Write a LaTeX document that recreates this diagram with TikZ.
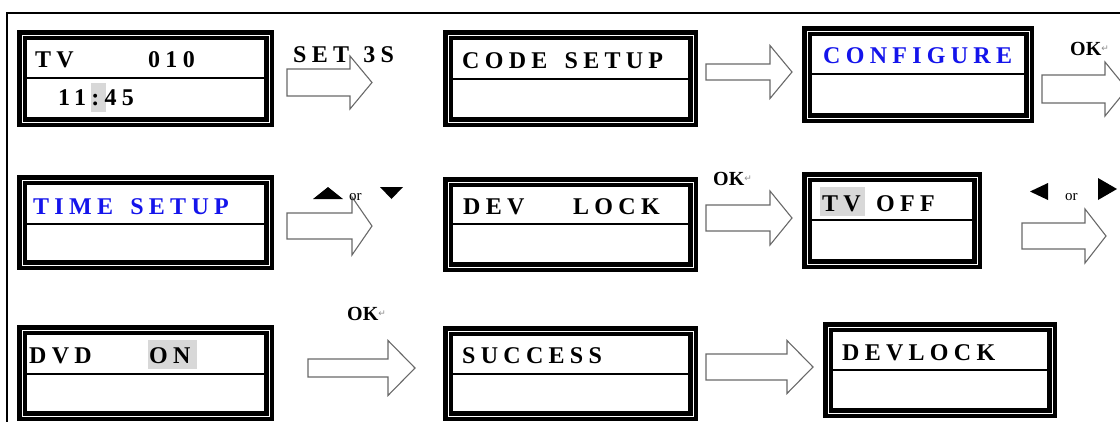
\documentclass[tikz,border=0pt]{standalone}
\usepackage{fontspec}
\setmainfont{Liberation Serif}
\newfontfamily\lcdfont[LetterSpace=22]{Liberation Serif}
\newfontfamily\symfont{DejaVu Sans}

\definecolor{lcdblue}{RGB}{20,20,235}
\definecolor{hilite}{RGB}{216,216,216}
\definecolor{arrowgrey}{RGB}{105,105,105}

\newcommand{\retsym}{\raisebox{4pt}{\color{black!45}\mdseries\symfont\fontsize{9}{9}\selectfont ↵}}
\newcommand{\lcdgap}{\hspace{6pt}}
% x start, y centre, shaft half, head half, head base, tip
\newcommand{\blockarrow}[6]{\draw[bigarrow] (#1,{#2-#3}) -- (#5,{#2-#3}) -- (#5,{#2-#4}) -- (#6,#2) -- (#5,{#2+#4}) -- (#5,{#2+#3}) -- (#1,{#2+#3}) -- cycle;}

\tikzset{
  screen/.style={draw=black, fill=white, line width=4.5pt, double=white, double distance=1pt, inner sep=0pt, outer sep=0pt},
  divider/.style={line width=1.3pt, shorten <=5pt, shorten >=5pt},
  lcd/.style={font=\lcdfont\bfseries\fontsize{24}{24}\selectfont, inner sep=0pt, anchor=base west},
  key/.style={font=\bfseries\fontsize{20}{20}\selectfont, inner sep=0pt, anchor=base west},
  small/.style={font=\fontsize{15}{15}\selectfont, inner sep=0pt, anchor=base west},
  bigarrow/.style={draw=arrowgrey, line width=1.1pt, fill=white},
}

\begin{document}
\begin{tikzpicture}[x=1pt,y=-1pt]
  \useasboundingbox (0,0) rectangle (1120,421);
  \clip (0,0) rectangle (1120,421);
  \draw[line width=2pt] (7,425) -- (7,13) -- (1125,13);

  % screens
  \node[screen, minimum width=247pt, minimum height=87pt] (tv) at (145.5,78.5) {};
  \node[screen, minimum width=245pt, minimum height=87pt] (code) at (570.5,78.5) {};
  \node[screen, minimum width=222pt, minimum height=87pt] (conf) at (918,74.5) {};
  \node[screen, minimum width=247pt, minimum height=85pt] (time) at (145.5,222.5) {};
  \node[screen, minimum width=245pt, minimum height=85pt] (dev) at (570.5,224.5) {};
  \node[screen, minimum width=170pt, minimum height=87pt] (tvoff) at (892,220.5) {};
  \node[screen, minimum width=247pt, minimum height=86pt] (dvd) at (145.5,373) {};
  \node[screen, minimum width=245pt, minimum height=85pt] (succ) at (570.5,373.5) {};
  \node[screen, minimum width=224pt, minimum height=86pt] (locked) at (940,370) {};

  \draw[divider] (tv.west |- 0,78) -- (tv.east |- 0,78);
  \draw[divider] (code.west |- 0,79) -- (code.east |- 0,79);
  \draw[divider] (conf.west |- 0,74) -- (conf.east |- 0,74);
  \draw[divider] (time.west |- 0,224) -- (time.east |- 0,224);
  \draw[divider] (dev.west |- 0,224) -- (dev.east |- 0,224);
  \draw[divider] (tvoff.west |- 0,220) -- (tvoff.east |- 0,220);
  \draw[divider] (dvd.west |- 0,374) -- (dvd.east |- 0,374);
  \draw[divider] (succ.west |- 0,374) -- (succ.east |- 0,374);
  \draw[divider] (locked.west |- 0,370) -- (locked.east |- 0,370);

  % highlights
  \fill[hilite] (91,83) rectangle (106,112);
  \fill[hilite] (820,187) rectangle (865,216);
  \fill[hilite] (148,340) rectangle (197,369);

  % screen texts
  \node[lcd] (tvch) at (35,67) {TV};
  \node[lcd] (tvnum) at (148,67) {010};
  \node[lcd] (clock) at (58,105) {11:45};
  \node[lcd] (codetxt) at (462,68) {CODE\lcdgap{} SETUP};
  \node[lcd, text=lcdblue] (conftxt) at (823,63) {CONFIGURE};
  \node[lcd, text=lcdblue] (timetxt) at (33,214) {TIME\lcdgap{} SETUP};
  \node[lcd] (devtxt) at (463,214) {DEV};
  \node[lcd] (locktxt) at (573,214) {LOCK};
  \node[lcd] (tvtxt) at (822,211) {TV};
  \node[lcd] (offtxt) at (876,211) {OFF};
  \node[lcd] (dvdtxt) at (29,363) {DVD};
  \node[lcd] (ontxt) at (149,363) {ON};
  \node[lcd] (succtxt) at (462,363) {SUCCESS};
  \node[lcd] (lockedtxt) at (842,360) {DEVLOCK};

  % arrows
  \blockarrow{287}{82.5}{13.5}{26.5}{350}{372}
  \blockarrow{706}{72}{8}{26.5}{770}{792}
  \blockarrow{1042}{89}{14}{27}{1105}{1127}
  \blockarrow{287}{226}{13}{29}{352}{372}
  \blockarrow{706}{218}{13}{27}{770}{792}
  \blockarrow{1022}{236}{13}{27}{1085}{1106}
  \blockarrow{308}{368}{9}{27.5}{388}{415}
  \blockarrow{706}{367}{13}{26.5}{787}{813}

  % key labels
  \node[lcd] (setlbl) at (293,62) {SET\hspace{3pt} 3S};
  \node[key] (ok1) at (1070,55) {OK\retsym};
  \node[key] (ok2) at (713,185) {OK\retsym};
  \node[key] (ok3) at (347,320) {OK\retsym};
  \node[small] (or1) at (349,200) {or};
  \node[small] (or2) at (1065,200) {or};
  \fill (313,199) -- (343,199) -- (328,187) -- cycle;
  \fill (380,187) -- (403,187) -- (391.5,199) -- cycle;
  \fill (1048,183) -- (1048,200) -- (1030,191.5) -- cycle;
  \fill (1098,178) -- (1098,200) -- (1117,189) -- cycle;
\end{tikzpicture}
\end{document}
